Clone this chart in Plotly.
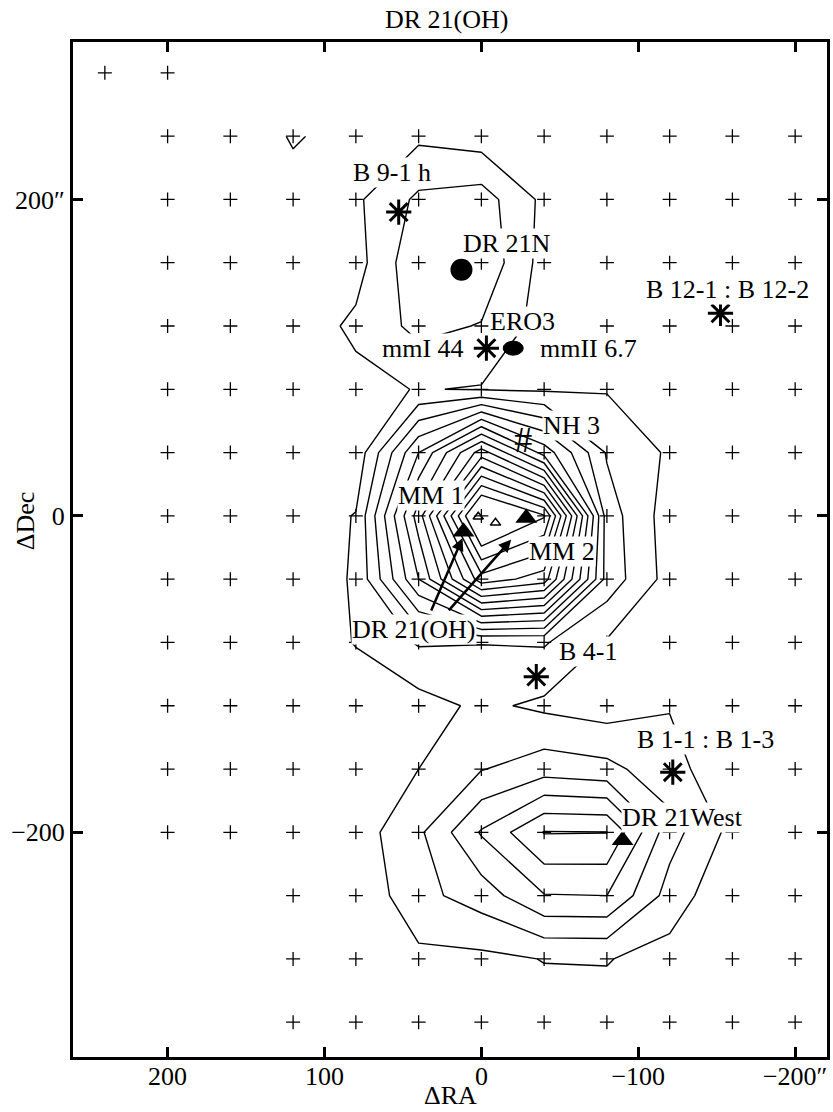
import plotly.graph_objects as go

# Map sampling grid (offsets in arcsec)
RA_GRID = [200, 160, 120, 80, 40, 0, -40, -80, -120, -160, -200]
DEC_GRID = [240, 200, 160, 120, 80, 40, 0, -40, -80, -120, -160, -200, -240, -280, -320]

# Integrated OH intensity on the grid (rows follow DEC_GRID, columns follow RA_GRID)
INTENSITY = [
    [0.1, 0.2, 1.1, 0.6, 0.8, 0.5, 0.3, 0.1, 0.0, 0.0, 0.0],
    [0.1, 0.2, 0.6, 0.83, 2.2, 2.47, 0.76, 0.3, 0.1, 0.0, 0.0],
    [0.1, 0.2, 0.4, 0.6, 2.8, 2.8, 0.6, 0.3, 0.1, 0.0, 0.0],
    [0.1, 0.2, 0.4, 1.2, 2.3, 1.94, 0.55, 0.3, 0.2, 0.1, 0.0],
    [0.1, 0.2, 0.4, 0.7, 1.05, 0.93, 0.85, 0.93, 0.5, 0.2, 0.1],
    [0.1, 0.2, 0.2, 0.3, 5.0, 9.5, 5.6, 1.9, 0.85, 0.2, 0.1],
    [0.1, 0.2, 0.4, 1.05, 7.5, 16.2, 14.1, 2.5, 0.5, 0.3, 0.1],
    [0.1, 0.2, 0.4, 1.1, 6.0, 11.6, 10.5, 2.6, 0.6, 0.3, 0.1],
    [0.1, 0.2, 0.3, 1.05, 2.1, 2.03, 2.1, 0.9, 0.4, 0.2, 0.1],
    [0.1, 0.2, 0.3, 0.4, 0.6, 1.2, 0.8, 0.5, 0.95, 0.2, 0.1],
    [0.1, 0.2, 0.2, 0.4, 1.0, 1.95, 2.55, 2.3, 1.35, 0.3, 0.1],
    [0.1, 0.2, 0.3, 0.5, 1.8, 4.1, 6.05, 6.02, 2.4, 0.7, 0.1],
    [0.1, 0.1, 0.2, 0.2, 1.69, 2.47, 3.95, 4.0, 1.6, 0.1, 0.1],
    [0.1, 0.1, 0.1, 0.2, 0.77, 0.76, 1.03, 1.05, 0.6, 0.1, 0.1],
    [0.0, 0.0, 0.1, 0.1, 0.3, 0.4, 0.6, 0.6, 0.3, 0.1, 0.0],
]
LEVEL_FIRST, LEVEL_LAST, LEVEL_STEP = 1, 14, 1

# Observed positions, row by row
OBS_DEC = [280, 240, 200, 160, 120, 80, 40, 0, -40, -80, -120, -160, -200, -240, -280, -320]
OBS_RA = [
    [240, 200],
    RA_GRID, RA_GRID, RA_GRID, RA_GRID, RA_GRID, RA_GRID, RA_GRID,
    RA_GRID, RA_GRID, RA_GRID, RA_GRID, RA_GRID,
    [120, 80, 40, 0, -40, -80, -120, -160, -200],
    [120, 80, 40, 0, -40, -80, -120, -160, -200],
    [120, 80, 40, 0, -40, -80, -120, -160, -200],
]

# Sources
STAR_RA = [52.7, -152.4, -3.2, -35.0, -122.0]        # B 9-1 h, B 12, mmI 44, B 4-1, B 1
STAR_DEC = [192.0, 128.0, 106.0, -101.6, -162.0]
DISK_RA, DISK_DEC = [12.7], [155.5]                   # DR 21N
BLOB_RA, BLOB_DEC = [-20.3], [106.0]                  # mmII 6.7
TRI_RA = [11.4, -28.6, -90.0]                         # MM 1, MM 2, DR 21West
TRI_DEC = [-10.0, -1.3, -205.0]
OPEN_TRI_RA = [2.0, -9.0]
OPEN_TRI_DEC = [-0.6, -4.4]
HASH_RA, HASH_DEC = [-26.7], [46.0]                   # NH3 peak

LABEL_TEXT = ["B 9-1 h", "DR 21N", "B 12-1 : B 12-2", "ERO3", "mmI 44", "mmII 6.7",
              "NH 3", "MM 1", "MM 2", "DR 21(OH)", "B 4-1", "B 1-1 : B 1-3", "DR 21West"]
LABEL_RA = [57.0, -16.5, -157.0, -26.0, 37.0, -68.0, -57.5, 32.0, -51.7, 43.0, -68.0, -143.0, -128.0]
LABEL_DEC = [217.0, 172.0, 143.0, 123.0, 105.5, 105.5, 57.0, 12.6, -22.7, -72.0, -86.0, -141.5, -190.5]

# Arrows from the DR 21(OH) label to the two mm cores
ARROW_TAIL_RA = [32.4, 21.6]
ARROW_TAIL_DEC = [-60.7, -60.7]
ARROW_HEAD_RA = [12.0, -19.0]
ARROW_HEAD_DEC = [-14.0, -15.0]

FONT = "Liberation Serif"
BLACK = "black"

fig = go.Figure()

fig.add_trace(go.Contour(
    x=RA_GRID, y=DEC_GRID[::-1], z=INTENSITY[::-1],
    contours=dict(start=LEVEL_FIRST, end=LEVEL_LAST, size=LEVEL_STEP, coloring="none"),
    line=dict(color=BLACK, width=1.4, smoothing=0),
    showscale=False, hoverinfo="skip",
))

px, py = [], []
for dec, ras in zip(OBS_DEC, OBS_RA):
    for ra in ras:
        px.append(ra)
        py.append(dec)
fig.add_trace(go.Scatter(
    x=px, y=py, mode="markers",
    marker=dict(symbol="cross-thin", size=10, color=BLACK, line=dict(color=BLACK, width=1.3)),
    hoverinfo="skip",
))

fig.add_trace(go.Scatter(
    x=STAR_RA, y=STAR_DEC, mode="markers",
    marker=dict(symbol="asterisk-open", size=21, color=BLACK, line=dict(color=BLACK, width=3)),
))
fig.add_trace(go.Scatter(
    x=DISK_RA, y=DISK_DEC, mode="markers",
    marker=dict(symbol="circle", size=22, color=BLACK),
))
fig.add_trace(go.Scatter(
    x=TRI_RA, y=TRI_DEC, mode="markers",
    marker=dict(symbol="triangle-up", size=19, color=BLACK),
))
fig.add_trace(go.Scatter(
    x=OPEN_TRI_RA, y=OPEN_TRI_DEC, mode="markers",
    marker=dict(symbol="triangle-up-open", size=9, color=BLACK, line=dict(color=BLACK, width=1.5)),
))
fig.add_trace(go.Scatter(
    x=HASH_RA, y=HASH_DEC, mode="text", text=["#"],
    textfont=dict(family=FONT, size=36, color=BLACK),
))

# elliptical mm source
for cx, cy in zip(BLOB_RA, BLOB_DEC):
    fig.add_shape(type="circle", xref="x", yref="y", xsizemode="pixel", ysizemode="pixel",
                  xanchor=cx, yanchor=cy, x0=-10, x1=10, y0=-7, y1=7,
                  fillcolor=BLACK, line=dict(color=BLACK, width=1))

for tx, ty, hx, hy in zip(ARROW_TAIL_RA, ARROW_TAIL_DEC, ARROW_HEAD_RA, ARROW_HEAD_DEC):
    fig.add_annotation(x=hx, y=hy, ax=tx, ay=ty, xref="x", yref="y", axref="x", ayref="y",
                       text="", showarrow=True, arrowhead=2, arrowsize=1.0,
                       arrowwidth=2.5, arrowcolor=BLACK)

for t, x, y in zip(LABEL_TEXT, LABEL_RA, LABEL_DEC):
    fig.add_annotation(x=x, y=y, xref="x", yref="y", text=t, showarrow=False,
                       font=dict(family=FONT, size=26, color=BLACK),
                       bgcolor="white", borderpad=0)

text_font = dict(family=FONT, size=26, color=BLACK)
fig.add_annotation(x=0.4954, y=1.0217, xref="paper", yref="paper", text="DR 21(OH)",
                   xanchor="center", yanchor="middle", showarrow=False, font=text_font)
fig.add_annotation(x=0.5, y=-0.0542, xref="paper", yref="paper", text="ΔRA",
                   xanchor="center", yanchor="bottom", showarrow=False, font=text_font)
fig.add_annotation(x=-0.0634, y=0.528, xref="paper", yref="paper", text="ΔDec",
                   xanchor="center", yanchor="middle", textangle=-90, showarrow=False,
                   font=text_font)

axis_common = dict(showgrid=False, zeroline=False, showline=True, linewidth=3, linecolor=BLACK,
                   mirror="ticks", ticks="inside", ticklen=10, tickwidth=2.5, tickcolor=BLACK,
                   tickfont=text_font)
fig.update_xaxes(range=[260.3, -220.3], tickvals=[200, 100, 0, -100, -200],
                 ticktext=["200", "100", "0", "\u2212100", "\u2212200\u2033"],
                 ticklabelstandoff=-6, **axis_common)
fig.update_yaxes(range=[-342.0, 299.5], tickvals=[200, 0, -200],
                 ticktext=["200\u2033", "0", "\u2212200"], **axis_common)

fig.update_layout(width=833, height=1112, margin=dict(l=73, r=3, t=42, b=55),
                  paper_bgcolor="white", plot_bgcolor="white", showlegend=False)

fig.write_html("out.html")
